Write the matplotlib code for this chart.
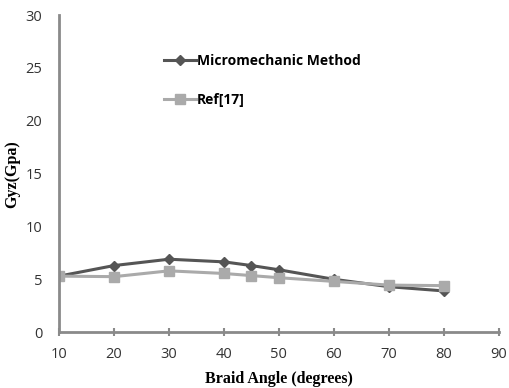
import numpy as np
import matplotlib
matplotlib.use('Agg')
import matplotlib.pyplot as plt

# data
angle = [10, 20, 30, 40, 45, 50, 60, 70, 80]
micro = [5.3, 6.3, 6.9, 6.65, 6.3, 5.9, 5.0, 4.3, 3.9]
ref17 = [5.3, 5.25, 5.8, 5.55, 5.35, 5.15, 4.8, 4.45, 4.4]
xticks = [10, 20, 30, 40, 50, 60, 70, 80, 90]
yticks = [0, 5, 10, 15, 20, 25, 30]

axis_col = '#8a8a8a'

fig = plt.figure(figsize=(5.09, 3.88), dpi=100)
ax = fig.add_axes([0.116, 0.144, 0.864, 0.817])

ax.plot(angle, micro, color='#555555', lw=2.2, marker='D', ms=5,
        label='Micromechanic Method')
ax.plot(angle, ref17, color='#aaaaaa', lw=2.2, marker='s', ms=7,
        label='Ref[17]')

ax.set_xlim(10, 90)
ax.set_ylim(0, 30)
ax.set_xticks(xticks)
ax.set_yticks(yticks)

for s in ['top', 'right']:
    ax.spines[s].set_visible(False)
for s in ['left', 'bottom']:
    ax.spines[s].set_color(axis_col)
    ax.spines[s].set_linewidth(2)

ax.tick_params(axis='x', direction='inout', length=6, width=1.5, color=axis_col,
               labelcolor='#333333', labelsize=10.5, pad=8)
ax.tick_params(axis='y', direction='out', length=0, color=axis_col,
               labelcolor='#333333', labelsize=10.5, pad=12)
for lab in ax.get_xticklabels() + ax.get_yticklabels():
    lab.set_family('Open Sans')

ax.set_xlabel('Braid Angle (degrees)', family='Liberation Serif',
              fontweight='bold', fontsize=11.5, labelpad=6)
ax.set_ylabel('Gyz(Gpa)', family='Liberation Serif',
              fontweight='bold', fontsize=11.5, labelpad=4)

leg = ax.legend(loc='upper left', bbox_to_anchor=(0.21, 0.917), frameon=False,
                handlelength=2.3, handletextpad=0.1, labelspacing=1.8,
                prop={'family': 'Open Sans', 'weight': 'bold', 'size': 10})

fig.savefig('out.png', dpi=100)
